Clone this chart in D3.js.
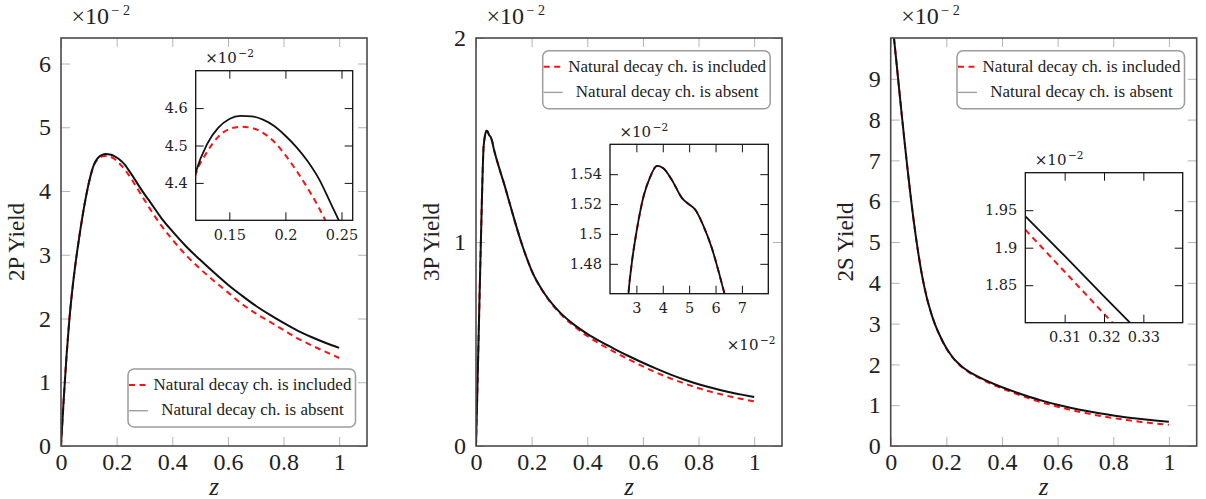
<!DOCTYPE html>
<html><head><meta charset="utf-8">
<script src="https://cdn.jsdelivr.net/npm/d3@7"></script>
<style>body{margin:0;background:#fff} svg{display:block}</style>
</head><body>
<svg id="c" width="1206" height="499"></svg>
<script>
// ---------------- DATA ----------------
const legendLabels = ['Natural decay ch. is included', 'Natural decay ch. is absent'];
const xTickVals = [0, 0.2, 0.4, 0.6, 0.8, 1];
const xTickLabels = ['0', '0.2', '0.4', '0.6', '0.8', '1'];

// 2P yield (x10^-2)
const z2P = [0,0.01,0.02,0.03,0.04,0.05,0.06,0.07,0.08,0.09,0.10,0.11,0.12,0.13,0.14,0.15,0.16,0.17,0.18,0.19,0.20,0.21,0.22,0.23,0.24,0.25,0.26,0.28,0.30,0.32,0.36,0.40,0.45,0.50,0.55,0.60,0.65,0.70,0.75,0.80,0.85,0.90,0.95,1.00];
const absent2P = [0,0.75,1.42,1.98,2.42,2.79,3.11,3.405,3.675,3.915,4.125,4.30,4.428,4.503,4.547,4.571,4.579,4.578,4.569,4.552,4.526,4.495,4.457,4.41,4.348,4.285,4.22,4.08,3.95,3.83,3.58,3.37,3.13,2.92,2.72,2.53,2.36,2.20,2.06,1.93,1.81,1.71,1.62,1.54];
const included2P = [0,0.75,1.42,1.98,2.42,2.79,3.11,3.405,3.675,3.915,4.125,4.298,4.423,4.482,4.523,4.544,4.550,4.547,4.534,4.51,4.474,4.432,4.385,4.333,4.272,4.21,4.14,4.00,3.86,3.72,3.46,3.24,2.99,2.78,2.59,2.41,2.23,2.08,1.95,1.82,1.69,1.58,1.48,1.38];
const yTicks2P = [0,1,2,3,4,5,6];
const yTickLabels2P = ['0','1','2','3','4','5','6'];
const insetX2P = [0.15, 0.2, 0.25];
const insetXLabels2P = ['0.15','0.2','0.25'];
const insetY2P = [4.4, 4.5, 4.6];
const insetYLabels2P = ['4.4','4.5','4.6'];

// 3P yield (x10^-2)
const z3P = [0,0.005,0.01,0.015,0.02,0.023,0.025,0.027,0.0283,0.0302,0.0327,0.0352,0.0378,0.0402,0.0435,0.0473,0.0498,0.0524,0.0555,0.0587,0.0613,0.0634,0.07,0.08,0.09,0.10,0.12,0.14,0.16,0.18,0.20,0.25,0.30,0.35,0.40,0.45,0.50,0.55,0.60,0.65,0.70,0.75,0.80,0.85,0.90,0.95,1.00];
const absent3P = [0,0.28,0.57,0.86,1.14,1.30,1.39,1.46,1.481,1.503,1.525,1.538,1.5455,1.544,1.536,1.524,1.520,1.516,1.505,1.490,1.474,1.46,1.425,1.378,1.333,1.29,1.195,1.10,1.01,0.93,0.86,0.74,0.6575,0.5975,0.55,0.51,0.474,0.44,0.408,0.378,0.350,0.325,0.303,0.284,0.267,0.253,0.240];
const included3P = [0,0.28,0.57,0.86,1.14,1.30,1.39,1.46,1.481,1.503,1.525,1.538,1.5455,1.544,1.536,1.524,1.520,1.516,1.505,1.490,1.474,1.46,1.425,1.378,1.333,1.29,1.195,1.10,1.01,0.93,0.86,0.738,0.6525,0.590,0.539,0.497,0.459,0.424,0.390,0.359,0.331,0.306,0.283,0.264,0.247,0.232,0.219];
const yTicks3P = [0,1,2];
const yTickLabels3P = ['0','1','2'];
const insetX3P = [3,4,5,6,7];
const insetXLabels3P = ['3','4','5','6','7'];
const insetY3P = [1.48,1.5,1.52,1.54];
const insetYLabels3P = ['1.48','1.5','1.52','1.54'];

// 2S yield (x10^-2)
const z2S = [0.008,0.02,0.03,0.04,0.05,0.06,0.07,0.08,0.09,0.10,0.11,0.12,0.13,0.14,0.15,0.16,0.18,0.20,0.22,0.24,0.26,0.28,0.30,0.34,0.38,0.42,0.46,0.50,0.55,0.60,0.65,0.70,0.75,0.80,0.85,0.90,0.95,1.00];
const absent2S = [10.25,9.45,8.77,8.10,7.45,6.82,6.22,5.66,5.15,4.69,4.28,3.93,3.63,3.38,3.16,2.97,2.66,2.40,2.20,2.045,1.925,1.83,1.75,1.614,1.496,1.39,1.292,1.20,1.10,1.01,0.932,0.862,0.80,0.746,0.699,0.659,0.625,0.595];
const included2S = [10.25,9.45,8.77,8.10,7.45,6.82,6.22,5.66,5.15,4.69,4.28,3.93,3.63,3.38,3.16,2.97,2.655,2.39,2.188,2.031,1.909,1.812,1.73,1.59,1.468,1.358,1.257,1.16,1.057,0.964,0.88,0.807,0.743,0.686,0.636,0.591,0.553,0.52];
const yTicks2S = [0,1,2,3,4,5,6,7,8,9];
const yTickLabels2S = ['0','1','2','3','4','5','6','7','8','9'];
const insetZ2S = [0.30,0.31,0.32,0.33];
const insetAbsent2S = [1.942,1.889,1.835,1.782];
const insetIncluded2S = [1.924,1.868,1.812,1.756];
const insetX2S = [0.31,0.32,0.33];
const insetXLabels2S = ['0.31','0.32','0.33'];
const insetY2S = [1.85,1.9,1.95];
const insetYLabels2S = ['1.85','1.9','1.95'];

// ---------------- DRAW ----------------
const svg = d3.select('#c');
const defs = svg.append('defs');
const SERIF = '"Liberation Serif", "Times New Roman", serif';
const ISERIF = '"DejaVu Serif", serif';
const TXT = '#222';
let clipId = 0;
function clip(x, y, w, h) {
  const id = 'clip' + (clipId++);
  defs.append('clipPath').attr('id', id).append('rect').attr('x', x).attr('y', y).attr('width', w).attr('height', h);
  return 'url(#' + id + ')';
}
function sci(g, x, y, fs, fsSup, supDy, family, gap, ls) {
  const t = g.append('text').attr('x', x).attr('y', y)
    .style('font-family', family).style('font-size', fs + 'px').attr('fill', TXT).text('×10');
  const w = t.node().getComputedTextLength();
  g.append('text').attr('x', x + w + gap).attr('y', y - supDy)
    .style('font-family', family).style('font-size', fsSup + 'px').style('letter-spacing', ls + 'px')
    .attr('fill', TXT).text('−2');
}
function styleAxis(g, family, fs, tickColor) {
  g.select('.domain').remove();
  g.selectAll('.tick line').attr('stroke', tickColor).attr('stroke-width', 1);
  g.selectAll('.tick text').style('font-family', family).style('font-size', fs + 'px').attr('fill', TXT);
  g.attr('font-family', null).attr('font-size', null);
}
function lineGen(x, y) {
  return d3.line().x(d => x(d[0])).y(d => y(d[1])).curve(d3.curveMonotoneX);
}
function pairs(zs, vs, mul) { return zs.map((z, i) => [z * (mul || 1), vs[i]]); }

const panels = [
  { left: 61, ymax: 6.4, ylabel: '2P Yield', ylabX: 16, z: z2P, inc: included2P, abs: absent2P,
    yt: yTicks2P, ytl: yTickLabels2P, legend: { x: 128, y: 369 },
    inset: { x0: 195.7, x1: 352.7, y0: 70.7, y1: 220.3, xd: [0.12, 0.26], yd: [4.3, 4.7],
      inc: pairs(z2P, included2P), abs: pairs(z2P, absent2P),
      xt: insetX2P, xtl: insetXLabels2P, yt: insetY2P, ytl: insetYLabels2P } },
  { left: 476, ymax: 2, ylabel: '3P Yield', ylabX: 431.7, z: z3P, inc: included3P, abs: absent3P,
    yt: yTicks3P, ytl: yTickLabels3P, legend: { x: 542.7, y: 50.7 },
    inset: { x0: 610, x1: 768.3, y0: 144.3, y1: 293.7, xd: [2, 8], yd: [1.46, 1.56],
      inc: pairs(z3P, included3P, 100), abs: pairs(z3P, absent3P, 100),
      xt: insetX3P, xtl: insetXLabels3P, yt: insetY3P, ytl: insetYLabels3P, bottomSci: true } },
  { left: 890.7, ymax: 10, ylabel: '2S Yield', ylabX: 845, z: z2S, inc: included2S, abs: absent2S,
    yt: yTicks2S, ytl: yTickLabels2S, legend: { x: 957, y: 50.7 },
    inset: { x0: 1025.3, x1: 1182.7, y0: 172.7, y1: 322.7, xd: [0.30, 0.34], yd: [1.80, 2.00],
      inc: pairs(insetZ2S, insetIncluded2S), abs: pairs(insetZ2S, insetAbsent2S),
      xt: insetX2S, xtl: insetXLabels2S, yt: insetY2S, ytl: insetYLabels2S } }
];

const TOP = 38, BOT = 446, W = 306;

panels.forEach(p => {
  const g = svg.append('g');
  const x = d3.scaleLinear().domain([0, 1.1]).range([p.left, p.left + W]);
  const y = d3.scaleLinear().domain([0, p.ymax]).range([BOT, TOP]);

  const ax = [
    g.append('g').attr('transform', `translate(0,${BOT})`).call(
      d3.axisBottom(x).tickValues(xTickVals).tickFormat((d, i) => xTickLabels[i]).tickSizeInner(-9).tickSizeOuter(0).tickPadding(6.5)),
    g.append('g').attr('transform', `translate(0,${TOP})`).call(
      d3.axisTop(x).tickValues(xTickVals).tickFormat('').tickSizeInner(-9).tickSizeOuter(0)),
    g.append('g').attr('transform', `translate(${p.left},0)`).call(
      d3.axisLeft(y).tickValues(p.yt).tickFormat((d, i) => p.ytl[i]).tickSizeInner(-9).tickSizeOuter(0).tickPadding(10)),
    g.append('g').attr('transform', `translate(${p.left + W},0)`).call(
      d3.axisRight(y).tickValues(p.yt).tickFormat('').tickSizeInner(-9).tickSizeOuter(0))
  ];
  ax.forEach(a => styleAxis(a, SERIF, 24, '#b4b4b4'));

  const cp = clip(p.left, TOP, W, BOT - TOP);
  const lg = g.append('g').attr('clip-path', cp);
  const ln = lineGen(x, y);
  lg.append('path').attr('d', ln(pairs(p.z, p.inc))).attr('fill', 'none')
    .attr('stroke', '#ff1010').attr('stroke-width', 2).attr('stroke-dasharray', '6,4.5');
  lg.append('path').attr('d', ln(pairs(p.z, p.abs))).attr('fill', 'none')
    .attr('stroke', '#111').attr('stroke-width', 2);

  g.append('rect').attr('x', p.left).attr('y', TOP).attr('width', W).attr('height', BOT - TOP)
    .attr('fill', 'none').attr('stroke', '#4a4a4a').attr('stroke-width', 1.6);

  sci(g, p.left + 10.5, 23.5, 24, 14, 9, SERIF, 2.5, 3.5);
  g.append('text').attr('transform', `translate(${p.ylabX},242) rotate(-90)`)
    .attr('text-anchor', 'middle').attr('dominant-baseline', 'central')
    .style('font-family', SERIF).style('font-size', '23px').attr('fill', TXT).text(p.ylabel);
  g.append('text').attr('x', p.left + W / 2).attr('y', 495).attr('text-anchor', 'middle')
    .style('font-family', SERIF).style('font-size', '25px').style('font-style', 'italic').attr('fill', TXT).text('z');

  // inset
  const s = p.inset;
  const ix = d3.scaleLinear().domain(s.xd).range([s.x0, s.x1]);
  const iy = d3.scaleLinear().domain(s.yd).range([s.y1, s.y0]);
  const ig = g.append('g');
  ig.append('rect').attr('x', s.x0).attr('y', s.y0).attr('width', s.x1 - s.x0).attr('height', s.y1 - s.y0).attr('fill', '#fff');
  const icp = clip(s.x0, s.y0, s.x1 - s.x0, s.y1 - s.y0);
  const ilg = ig.append('g').attr('clip-path', icp);
  const iln = lineGen(ix, iy);
  ilg.append('path').attr('d', iln(s.inc)).attr('fill', 'none')
    .attr('stroke', '#ff1010').attr('stroke-width', 2).attr('stroke-dasharray', '6,4.5');
  ilg.append('path').attr('d', iln(s.abs)).attr('fill', 'none')
    .attr('stroke', '#111').attr('stroke-width', 1.8);
  const iax = [
    ig.append('g').attr('transform', `translate(0,${s.y1})`).call(
      d3.axisBottom(ix).tickValues(s.xt).tickFormat((d, i) => s.xtl[i]).tickSizeInner(-8).tickSizeOuter(0).tickPadding(9.5)),
    ig.append('g').attr('transform', `translate(0,${s.y0})`).call(
      d3.axisTop(ix).tickValues(s.xt).tickFormat('').tickSizeInner(-8).tickSizeOuter(0)),
    ig.append('g').attr('transform', `translate(${s.x0},0)`).call(
      d3.axisLeft(iy).tickValues(s.yt).tickFormat((d, i) => s.ytl[i]).tickSizeInner(-8).tickSizeOuter(0).tickPadding(8)),
    ig.append('g').attr('transform', `translate(${s.x1},0)`).call(
      d3.axisRight(iy).tickValues(s.yt).tickFormat('').tickSizeInner(-8).tickSizeOuter(0))
  ];
  iax.forEach(a => styleAxis(a, ISERIF, 14.5, '#111'));
  ig.append('rect').attr('x', s.x0).attr('y', s.y0).attr('width', s.x1 - s.x0).attr('height', s.y1 - s.y0)
    .attr('fill', 'none').attr('stroke', '#111').attr('stroke-width', 1.3);
  sci(ig, s.x0 + 9.5, s.y0 - 7.5, 15, 10.5, 6, ISERIF, 1.5, 0);
  if (s.bottomSci) sci(ig, s.x1 - 41.5, s.y1 + 56.5, 15, 10.5, 6, ISERIF, 1.5, 0);

  // legend
  const L = p.legend;
  const leg = g.append('g');
  leg.append('rect').attr('x', L.x).attr('y', L.y).attr('width', 227.5).attr('height', 58)
    .attr('rx', 6).attr('fill', '#fff').attr('stroke', '#9c9c9c').attr('stroke-width', 1.5);
  leg.append('line').attr('x1', L.x + 1).attr('x2', L.x + 19).attr('y1', L.y + 16).attr('y2', L.y + 16)
    .attr('stroke', '#ff1010').attr('stroke-width', 2).attr('stroke-dasharray', '6,4.5');
  leg.append('line').attr('x1', L.x + 1).attr('x2', L.x + 20).attr('y1', L.y + 41.7).attr('y2', L.y + 41.7)
    .attr('stroke', '#a0a0a0').attr('stroke-width', 1.4);
  legendLabels.forEach((t, i) => {
    leg.append('text').attr('x', L.x + 124.5).attr('y', L.y + 21 + i * 25.2).attr('text-anchor', 'middle')
      .style('font-family', SERIF).style('font-size', '17px').attr('fill', TXT).text(t);
  });
});
</script>
</body></html>
